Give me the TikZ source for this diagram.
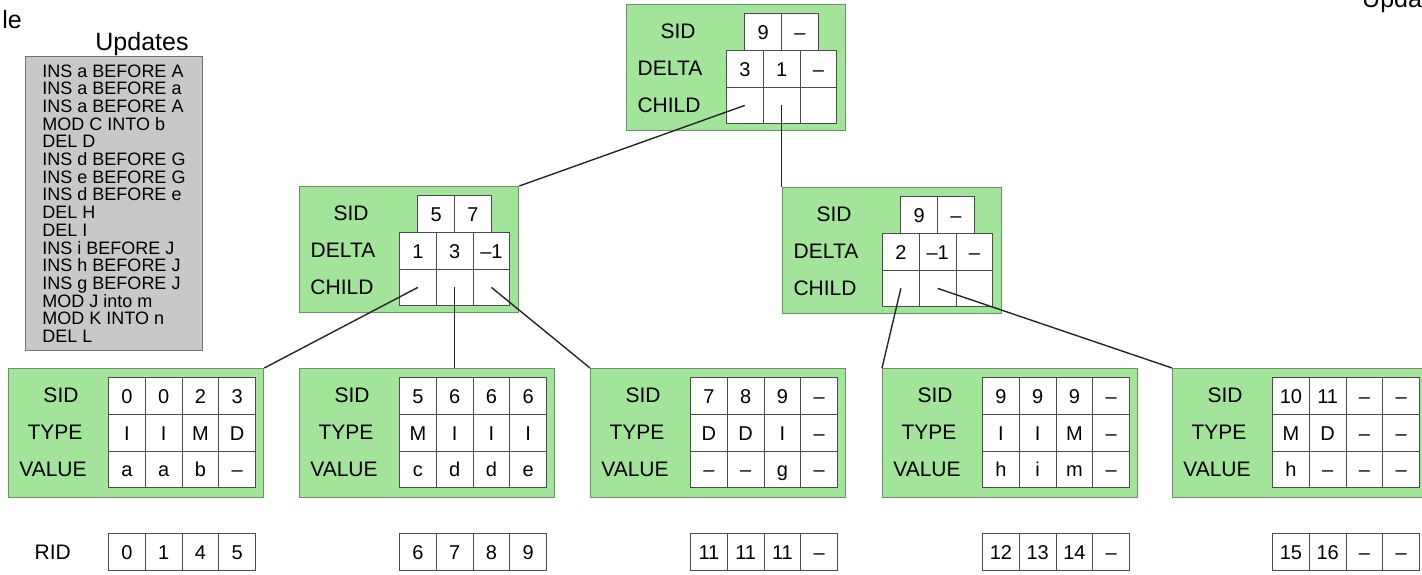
\documentclass[tikz,border=0pt]{standalone}
\usepackage{fontspec}
\setmainfont{Liberation Sans}
\usetikzlibrary{positioning}

\definecolor{treegreen}{RGB}{163,228,155}
\definecolor{treeedge}{RGB}{104,148,100}
\definecolor{loggray}{RGB}{200,200,200}

% one row of table cells, left edge at #2, top edge at #3
\newcommand{\cellrow}[4]{%
  \foreach \v [count=\i] in {#4}
    \node[cell] (#1-\i) at ({#2+(\i-1)*36.75},#3) {\v};%
}

\begin{document}
\begin{tikzpicture}[x=1pt, y=-1pt,
  treenode/.style={draw=treeedge, line width=1.3pt, fill=treegreen, anchor=north west, inner sep=0pt, minimum width=219pt, minimum height=126pt},
  leafbox/.style={treenode, minimum width=255pt, minimum height=129pt},
  cell/.style={draw=black!70, line width=1pt, fill=white, anchor=north west, inner sep=0pt, minimum width=36.75pt, minimum height=36.75pt, text height=15pt, text depth=0pt, font=\fontsize{20}{20}\selectfont},
  field/.style={inner sep=0pt, text height=15pt, text depth=0pt, font=\fontsize{21}{21}\selectfont},
  title/.style={inner sep=0pt, font=\fontsize{25}{25}\selectfont},
  logbox/.style={draw=black!55, line width=1pt, fill=loggray, anchor=north west, align=left, inner sep=0pt, minimum width=177pt, minimum height=294pt, font=\fontsize{18}{17.7}\selectfont},
  childlink/.style={line width=1.4pt, draw=black!85},
]
  \fill[white] (0,0) rectangle (1422,574);
  \useasboundingbox (0,0) rectangle (1422,574);

  % Headings at the page edges
  \node[title, anchor=base east] (lefthead) at (22,28) {le};
  \node[title, anchor=base west] (righthead) at (1362,7) {Upda};

  % Update log
  \node[logbox] (log) at (25,56) {INS a BEFORE A\\INS a BEFORE a\\INS a BEFORE A\\MOD C INTO b\\DEL D\\INS d BEFORE G\\INS e BEFORE G\\INS d BEFORE e\\DEL H\\DEL I\\INS i BEFORE J\\INS h BEFORE J\\INS g BEFORE J\\MOD J into m\\MOD K INTO n\\DEL L};
  \node[title, anchor=base] (logtitle) at (142,50) {Updates};

  % Root
  \node[treenode] (root) at (626,4) {};
  \cellrow{root-sid}{744.4}{13}{9,–}
  \cellrow{root-dl}{726}{49.75}{3,1,–}
  \cellrow{root-ch}{726}{86.5}{{},{},{}}
  \node[field] (root-lsid) at (678,31.4) {SID};
  \node[field] (root-ldl) at (670,68.1) {DELTA};
  \node[field] (root-lch) at (669,104.9) {CHILD};

  % Inner nodes
  \node[treenode] (midl) at (299,186) {};
  \cellrow{midl-sid}{417.4}{195}{5,7}
  \cellrow{midl-dl}{399}{231.75}{1,3,–1}
  \cellrow{midl-ch}{399}{268.5}{{},{},{}}
  \node[field] (midl-lsid) at (351,213.4) {SID};
  \node[field] (midl-ldl) at (343,250.1) {DELTA};
  \node[field] (midl-lch) at (342,286.9) {CHILD};

  \node[treenode] (midr) at (782,187) {};
  \cellrow{midr-sid}{900.4}{196}{9,–}
  \cellrow{midr-dl}{882}{232.75}{2,–1,–}
  \cellrow{midr-ch}{882}{269.5}{{},{},{}}
  \node[field] (midr-lsid) at (834,214.4) {SID};
  \node[field] (midr-ldl) at (826,251.1) {DELTA};
  \node[field] (midr-lch) at (825,287.9) {CHILD};

  % Leaves
  \foreach \n/\lx in {1/8, 2/299, 3/590, 4/882, 5/1172} {
    \node[leafbox] (leaf\n) at (\lx,368) {};
    \node[field] (leaf\n-lsid) at (\lx+53,395.4) {SID};
    \node[field] (leaf\n-ltype) at (\lx+47,432.1) {TYPE};
    \node[field] (leaf\n-lval) at (\lx+45,468.9) {VALUE};
  }

  \cellrow{l1-sid}{108}{377}{0,0,2,3}
  \cellrow{l1-type}{108}{413.75}{I,I,M,D}
  \cellrow{l1-val}{108}{450.5}{a,a,b,–}

  \cellrow{l2-sid}{399}{377}{5,6,6,6}
  \cellrow{l2-type}{399}{413.75}{M,I,I,I}
  \cellrow{l2-val}{399}{450.5}{c,d,d,e}

  \cellrow{l3-sid}{690}{377}{7,8,9,–}
  \cellrow{l3-type}{690}{413.75}{D,D,I,–}
  \cellrow{l3-val}{690}{450.5}{–,–,g,–}

  \cellrow{l4-sid}{982}{377}{9,9,9,–}
  \cellrow{l4-type}{982}{413.75}{I,I,M,–}
  \cellrow{l4-val}{982}{450.5}{h,i,m,–}

  \cellrow{l5-sid}{1272}{377}{10,11,–,–}
  \cellrow{l5-type}{1272}{413.75}{M,D,–,–}
  \cellrow{l5-val}{1272}{450.5}{h,–,–,–}

  % Row ids
  \cellrow{rid1}{108}{533}{0,1,4,5}
  \cellrow{rid2}{399}{533}{6,7,8,9}
  \cellrow{rid3}{690}{533}{11,11,11,–}
  \cellrow{rid4}{982}{533}{12,13,14,–}
  \cellrow{rid5}{1272}{533}{15,16,–,–}
  \node[field, left=37pt of rid1-1] (ridlabel) {RID};

  % Child pointers
  \draw[childlink] (root-ch-1.center) -- (midl.north east);
  \draw[childlink] (root-ch-2.center) -- (root-ch-2.center |- midr.north);
  \draw[childlink] (midl-ch-1.center) -- (leaf1.north east);
  \draw[childlink] (midl-ch-2.center) -- (midl-ch-2.center |- leaf2.north);
  \draw[childlink] (midl-ch-3.center) -- (leaf3.north west);
  \draw[childlink] (midr-ch-1.center) -- (leaf4.north west);
  \draw[childlink] (midr-ch-2.center) -- (leaf5.north west);

\end{tikzpicture}
\end{document}
